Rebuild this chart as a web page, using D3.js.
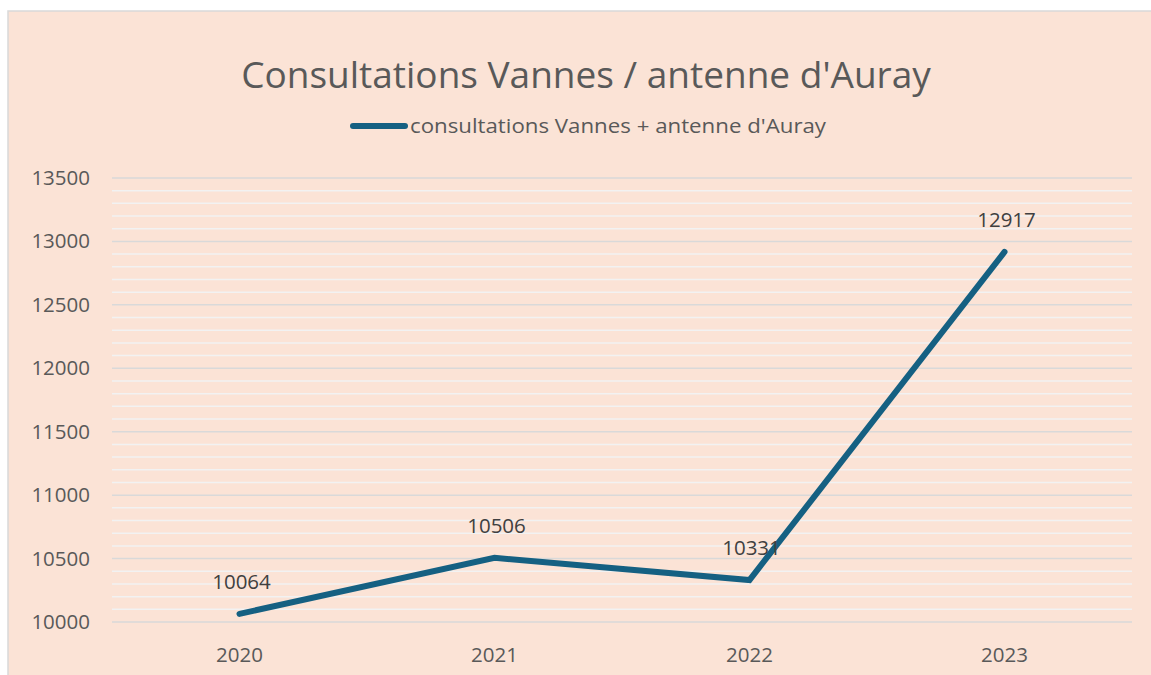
<!DOCTYPE html>
<html>
<head>
<meta charset="utf-8">
<script src="https://cdn.jsdelivr.net/npm/d3@7"></script>
<style>
  html, body { margin: 0; padding: 0; background: #fff; }
  svg { display: block; font-family: "Open Sans", "Liberation Sans", sans-serif; }
</style>
</head>
<body>
<div id="chart"></div>
<script>
// data
var years = ["2020", "2021", "2022", "2023"];
var consultations = [10064, 10506, 10331, 12917];
var yTicks = [10000, 10500, 11000, 11500, 12000, 12500, 13000, 13500];
var seriesName = "consultations Vannes + antenne d'Auray";
var title = "Consultations Vannes / antenne d'Auray";

var w = 1151, h = 675;
var lineColor = "#156082";

var svg = d3.select("#chart").append("svg")
    .attr("width", w)
    .attr("height", h);

// chart area background + frame
svg.append("rect")
    .attr("x", 8).attr("y", 11)
    .attr("width", w - 8 + 2).attr("height", h - 11 + 2)
    .attr("fill", "#fbe3d6")
    .attr("stroke", "#d9d9d9")
    .attr("stroke-width", 1.5);

var x = d3.scaleBand()
    .domain(years)
    .range([112, 1132]);

var y = d3.scaleLinear()
    .domain([10000, 13500])
    .range([622, 178]);

// minor gridlines every 100
var minor = d3.range(10100, 13500, 100).filter(function(v) { return v % 500 !== 0; });
svg.append("g").selectAll("line")
    .data(minor)
    .enter().append("line")
    .attr("x1", 112).attr("x2", 1132)
    .attr("y1", function(d) { return y(d); })
    .attr("y2", function(d) { return y(d); })
    .attr("stroke", "#f2f2f2")
    .attr("stroke-width", 1.5);

// major gridlines
svg.append("g").selectAll("line")
    .data(yTicks)
    .enter().append("line")
    .attr("x1", 112).attr("x2", 1132)
    .attr("y1", function(d) { return y(d); })
    .attr("y2", function(d) { return y(d); })
    .attr("stroke", "#d9d9d9")
    .attr("stroke-width", 1.5);

// y axis labels
svg.append("g").selectAll("text")
    .data(yTicks)
    .enter().append("text")
    .attr("x", 90)
    .attr("y", function(d) { return y(d) + 7; })
    .attr("text-anchor", "end")
    .attr("font-size", 20.5)
    .attr("fill", "#595959")
    .text(function(d) { return d; });

// x axis labels
svg.append("g").selectAll("text")
    .data(years)
    .enter().append("text")
    .attr("x", function(d) { return x(d) + x.bandwidth() / 2; })
    .attr("y", 662)
    .attr("text-anchor", "middle")
    .attr("font-size", 20.5)
    .attr("fill", "#595959")
    .text(function(d) { return d; });

// the line
var pts = years.map(function(d, i) { return [x(d) + x.bandwidth() / 2, y(consultations[i])]; });
svg.append("path")
    .attr("d", d3.line()(pts))
    .attr("fill", "none")
    .attr("stroke", lineColor)
    .attr("stroke-width", 6)
    .attr("stroke-linecap", "round")
    .attr("stroke-linejoin", "miter");

// data labels
svg.append("g").selectAll("text")
    .data(consultations)
    .enter().append("text")
    .attr("x", function(d, i) { return x(years[i]) + x.bandwidth() / 2 + 2; })
    .attr("y", function(d) { return y(d) - 25; })
    .attr("text-anchor", "middle")
    .attr("font-size", 20.5)
    .attr("fill", "#404040")
    .text(function(d) { return d; });

// title
svg.append("text")
    .attr("x", 586)
    .attr("y", 88)
    .attr("text-anchor", "middle")
    .attr("font-size", 37)
    .attr("fill", "#595959")
    .text(title);

// legend
svg.append("line")
    .attr("x1", 353).attr("x2", 405)
    .attr("y1", 126).attr("y2", 126)
    .attr("stroke", lineColor)
    .attr("stroke-width", 6)
    .attr("stroke-linecap", "round");
svg.append("text")
    .attr("x", 410)
    .attr("y", 133)
    .attr("font-size", 20)
    .attr("textLength", 416)
    .attr("lengthAdjust", "spacingAndGlyphs")
    .attr("fill", "#595959")
    .text(seriesName);
</script>
</body>
</html>
